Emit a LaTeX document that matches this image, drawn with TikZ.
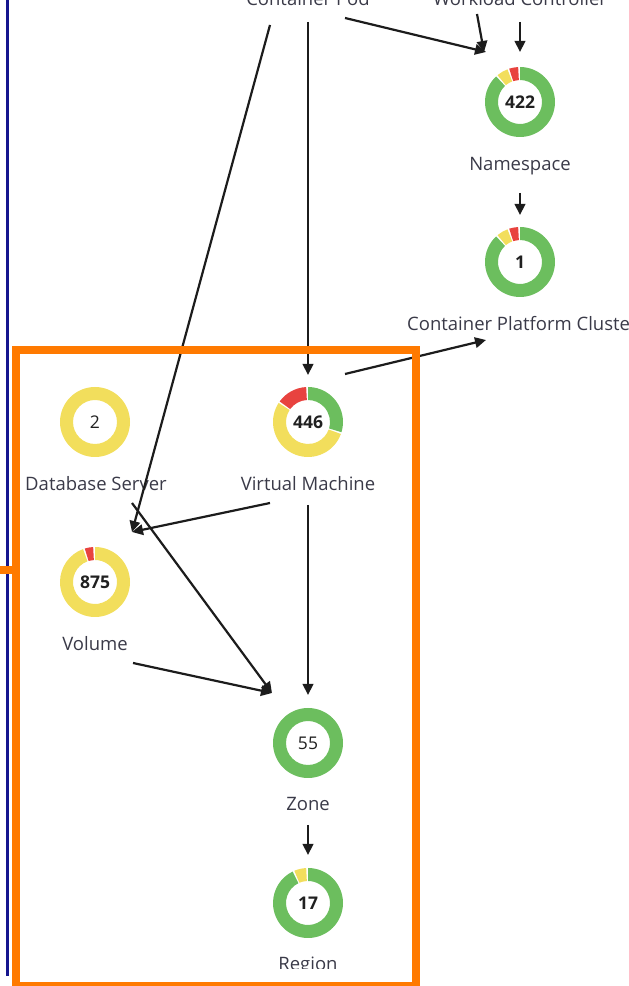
\documentclass[tikz,border=0pt]{standalone}
\usepackage{fontspec}
\setmainfont{Open Sans}
\usetikzlibrary{arrows.meta,calc}

\definecolor{okgreen}{HTML}{6CBE5E}
\definecolor{warnyellow}{HTML}{F2DE5C}
\definecolor{critred}{HTML}{E8433F}
\definecolor{frameorange}{HTML}{FF7A00}
\definecolor{railblue}{HTML}{16168E}
\definecolor{labelgray}{HTML}{3A3A48}
\definecolor{numblack}{HTML}{202020}
\definecolor{linkblack}{HTML}{1C1C1C}

% one coloured piece of a donut: colour, centre, from/to angle (clockwise from 12 o'clock)
\newcommand\ringseg[4]{%
  \fill[#1] ($(#2)+({90-#3}:35)$) arc[start angle={90-#3}, end angle={90-#4}, radius=35]
    -- ($(#2)+({90-#4}:22)$) arc[start angle={90-#4}, end angle={90-#3}, radius=22] -- cycle;}
% a closed donut of one colour
\newcommand\ringfull[2]{%
  \fill[#1, even odd rule] (#2) circle[radius=35] (#2) circle[radius=22];}

\tikzset{
  lbl/.style={font=\fontsize{18.5}{21}\selectfont, text=labelgray, inner sep=0pt, anchor=base},
  num/.style={font=\fontsize{17.5}{20}\selectfont\bfseries, text=numblack, inner sep=0pt},
  numlight/.style={font=\fontsize{17.5}{20}\selectfont, text=numblack, inner sep=0pt},
  link/.style={draw=linkblack, line width=2.2pt, -{Triangle[length=11pt,width=10.5pt]}},
}

\begin{document}
\begin{tikzpicture}[x=1pt, y=1pt]
\useasboundingbox (0,0) rectangle (629,986);
\clip (0,0) rectangle (629,986);

% side rail
\draw[railblue, line width=3pt] (7,986) -- (7,10);

% donut centres with their counts
\node[num]      (ns)   at (520,884) {422};
\node[num]      (cpc)  at (520,724) {1};
\node[num]      (vm)   at (308,564) {446};
\node[numlight] (db)   at (95,564)  {2};
\node[num]      (vol)  at (95,404)  {875};
\node[numlight] (zone) at (308,243) {55};
\node[num]      (reg)  at (308,83)  {17};

% rings
\ringseg{okgreen}{ns}{0}{317}
\ringseg{warnyellow}{ns}{320}{339}
\ringseg{critred}{ns}{342}{357}

\ringseg{okgreen}{cpc}{0}{317}
\ringseg{warnyellow}{cpc}{320}{339}
\ringseg{critred}{cpc}{342}{357}

\ringseg{okgreen}{vm}{0}{107}
\ringseg{warnyellow}{vm}{110}{303}
\ringseg{critred}{vm}{306}{357}

\ringfull{warnyellow}{db}

\ringseg{warnyellow}{vol}{0}{340}
\ringseg{critred}{vol}{343}{357}

\ringfull{okgreen}{zone}

\ringseg{okgreen}{reg}{0}{334}
\ringseg{warnyellow}{reg}{337}{357}

% labels
\node[lbl] (pod-l) at (308,980) {Container Pod};
\node[lbl] (wc-l)  at (520,980) {Workload Controller};
\node[lbl] (ns-l)  at (520,815) {Namespace};
\node[lbl, anchor=base west] (cpc-l) at (407,655) {Container Platform Cluster};
\node[lbl] (db-l)  at (96,495)  {Database Server};
\node[lbl] (vm-l)  at (308,495) {Virtual Machine};
\node[lbl] (vol-l) at (95,335)  {Volume};
\node[lbl] (zone-l) at (308,175) {Zone};
\begin{scope}
  \clip (0,17) rectangle (629,986);
  \node[lbl] (reg-l) at (308,16) {Region};
\end{scope}

% connector ends
\coordinate (pod-a) at (345,968);
\coordinate (pod-b) at (308,964);
\coordinate (pod-c) at (270,961);
\coordinate (up-a)  at (477,972);
\coordinate (wc-a)  at (520,964);
\coordinate (ns-in1) at (486,934);
\coordinate (ns-in2) at (484,934);
\coordinate (ns-in3) at (520,934);
\coordinate (ns-out) at (520,793);
\coordinate (cpc-in) at (520,771);
\coordinate (cpc-in2) at (486,646);
\coordinate (vm-in)  at (308,611);
\coordinate (vm-r)   at (345,612);
\coordinate (vm-w)   at (270,483);
\coordinate (vm-dn)  at (308,481);
\coordinate (vol-in) at (132,454);
\coordinate (db-out) at (132,483);
\coordinate (vol-out) at (133,323);
\coordinate (zone-in) at (272,293);
\coordinate (zone-in2) at (308,291);
\coordinate (zone-out) at (308,161);
\coordinate (reg-in) at (308,131);

% connectors
\draw[link] (pod-a) -- (ns-in1);
\draw[link] (up-a) -- (ns-in2);
\draw[link] (wc-a) -- (ns-in3);
\draw[link] (pod-b) -- (vm-in);
\draw[link] (pod-c) -- (vol-in);
\draw[link] (ns-out) -- (cpc-in);
\draw[link] (vm-r) -- (cpc-in2);
\draw[link] (vm-w) -- (vol-in);
\draw[link] (db-out) -- (zone-in);
\draw[link] (vol-out) -- (zone-in);
\draw[link] (vm-dn) -- (zone-in2);
\draw[link] (zone-out) -- (reg-in);

% highlight frame
\draw[frameorange, line width=8pt] (0,415.5) -- (12,415.5);
\draw[frameorange, line width=8pt] (16,0) rectangle (415.5,636);
\end{tikzpicture}
\end{document}
